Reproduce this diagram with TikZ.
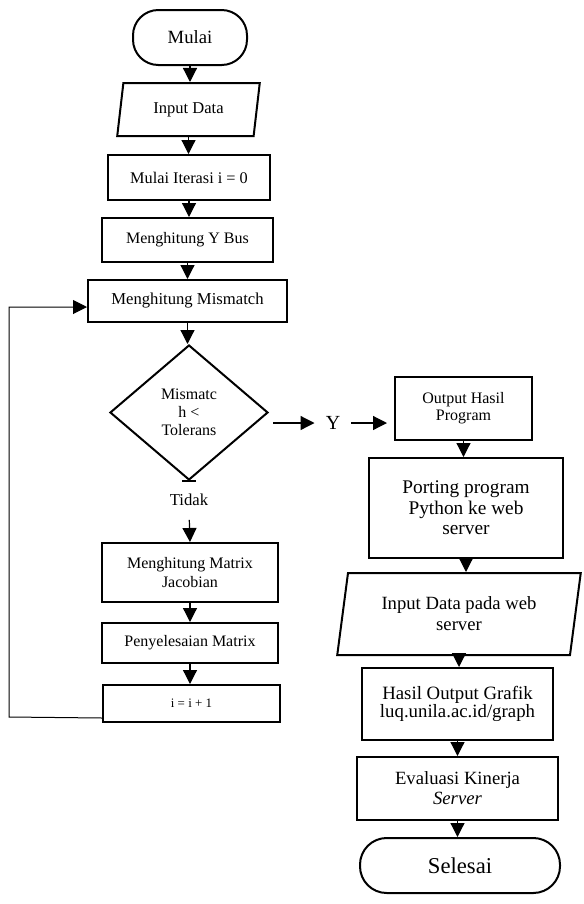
\documentclass[tikz,border=0pt]{standalone}
\usepackage{fontspec}
\setmainfont{Liberation Serif}
\usetikzlibrary{arrows.meta,shapes.geometric,positioning}

\newcommand{\fsz}[2]{\fontsize{#1}{#2}\selectfont}

\tikzset{
  sz/.style 2 args={minimum width=#1*0.75pt, minimum height=#2*0.75pt},
  box/.style={draw, line width=1.5pt, rectangle, inner sep=0pt, align=center},
  term/.style={draw, line width=1.5pt, rectangle, rounded corners=19pt, inner sep=0pt},
  io/.style={draw, line width=1.5pt, trapezium, trapezium stretches=true, inner sep=0pt, align=center},
  arr/.style={-{Triangle[length=10.5pt,width=10.5pt]}, line width=0.9pt},
}

\begin{document}
\begin{tikzpicture}[x=0.75pt,y=-0.75pt]
  \useasboundingbox (0,0) rectangle (583,904); %page size

  %Left column
  \node[term, sz={114}{55}, font=\fsz{14}{16}] (mulai) at (190,37.5) {Mulai};
  \node[io, sz={143}{53}, trapezium left angle=77, trapezium right angle=103,
        font=\fsz{12.4}{14}] (input) at (188.5,109.5) {Input Data};
  \node[box, sz={162}{45}, font=\fsz{12.2}{14}] (iter) at (189,177.5) {Mulai Iterasi i = 0};
  \node[box, sz={171}{44}, font=\fsz{12}{14}] (ybus) at (187.5,240) {Menghitung Y Bus};
  \node[box, sz={199}{42}, font=\fsz{12.5}{14}] (mism) at (187.5,301) {Menghitung Mismatch};
  \node[draw, diamond, line width=1.5pt, inner sep=0pt, sz={158}{135}, align=center,
        font=\fsz{12}{13.3}] (cek) at (189,412.5) {Mismatc\\h <\\Tolerans};
  \node[font=\fsz{12.5}{14}] (tidak) at (189,500) {Tidak};
  \node[box, sz={176}{59}, font=\fsz{12}{13.7}] (jac) at (190,572.5) {Menghitung Matrix\\Jacobian};
  \node[box, sz={176}{40}, font=\fsz{12}{14}] (pny) at (190,643) {Penyelesaian Matrix};
  \node[box, sz={177}{37}, font=\fsz{9.7}{11}] (inc) at (191.5,703.5) {i = i + 1};

  %Right column
  \node[inner sep=0pt, font=\fsz{15}{17}] (ya) at (333,423) {Y};
  \node[box, sz={137}{63}, font=\fsz{12}{13}] (out) at (463.5,408.5) {Output Hasil\\Program};
  \node[box, sz={194}{100}, font=\fsz{14.5}{15.5}] (port) at (466,508) {Porting program\\Python ke web\\server};
  \node[io, sz={244}{82}, trapezium left angle=77.6, trapezium right angle=102.4,
        font=\fsz{14}{15.75}] (inweb) at (459,614) {Input Data pada web\\server};
  \node[box, sz={191}{72}, font=\fsz{14.1}{14}] (graf) at (457.5,704) {Hasil Output Grafik\\luq.unila.ac.id/graph};
  \node[box, sz={201}{63}, font=\fsz{14}{15}] (eval) at (457.5,788.5) {Evaluasi Kinerja\\\textit{Server}};
  \node[term, sz={200}{55}, rounded corners=20pt, font=\fsz{17}{19}] (selesai) at (460,865.5) {Selesai};

  %Arrows down the columns
  \foreach \a/\b in {mulai/input, input/iter, iter/ybus, ybus/mism, mism/cek,
                     jac/pny, pny/inc, out/port, port/inweb, inweb/graf,
                     graf/eval, eval/selesai}
    \draw[arr] (\a.south) -- (\a.south |- \b.north);

  %Decision branches
  \draw[line width=1pt] ([xshift=-5.25pt]cek.south) -- ([xshift=5.25pt]cek.south); %end mark
  \draw[arr, shorten <=7pt] (tidak.south) -- (jac.north);
  \draw[arr, shorten >=8.25pt] (cek.east |- ya.west) ++(4,0) -- (ya.west);
  \draw[arr, shorten <=8.25pt, shorten >=5.25pt] (ya.east) -- (out.west |- ya.east);

  %Loop back
  \coordinate (lp) at (9,717);
  \draw[arr, line width=0.75pt] ([yshift=3.75pt]inc.south west) -- (lp) |- ([yshift=-4.5pt]mism.west);
\end{tikzpicture}
\end{document}
